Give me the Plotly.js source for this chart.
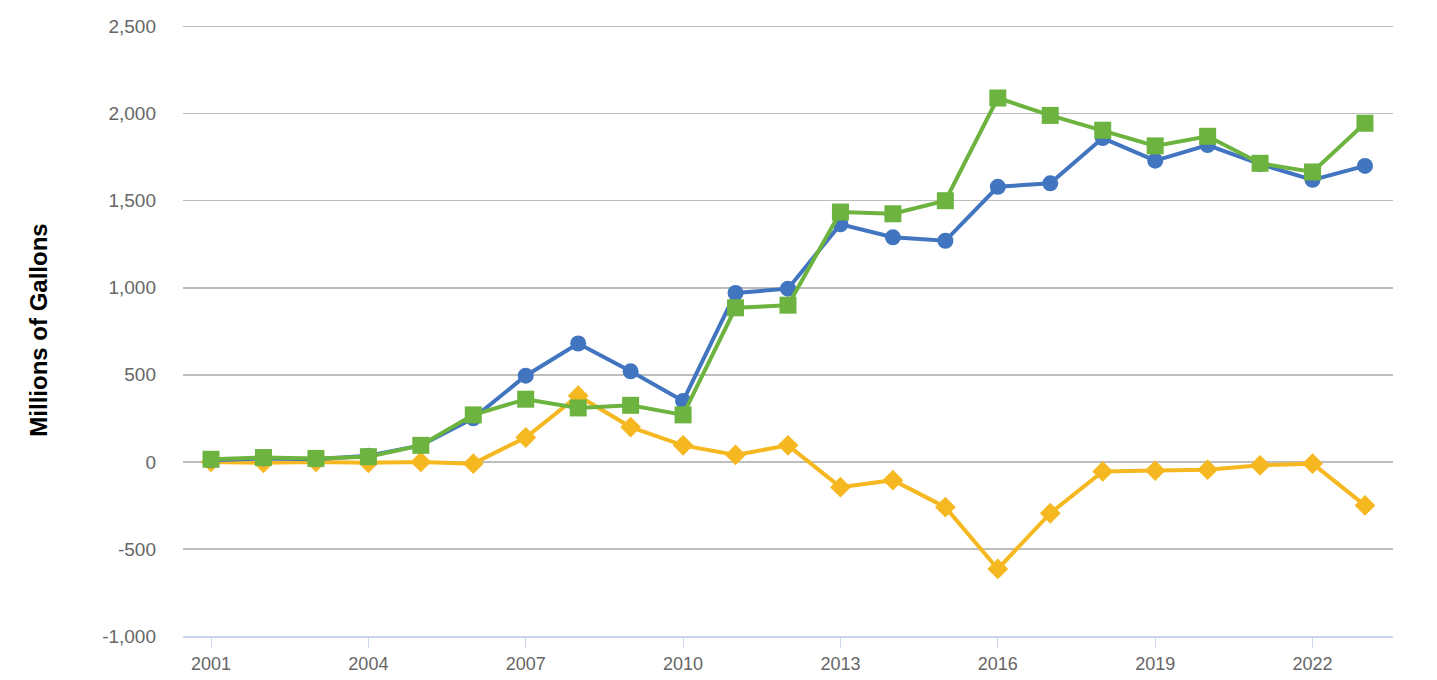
<!DOCTYPE html>
<html>
<head>
<meta charset="utf-8">
<script src="https://cdn.plot.ly/plotly-3.0.1.min.js"></script>
<style>html,body{margin:0;padding:0;background:#fff;}#chart{width:1437px;height:680px;}</style>
</head>
<body>
<div id="chart"></div>
<script>
const years = [2001,2002,2003,2004,2005,2006,2007,2008,2009,2010,2011,2012,2013,2014,2015,2016,2017,2018,2019,2020,2021,2022,2023];
const blueSeries = [10,20,15,35,95,250,495,680,520,350,970,995,1365,1290,1270,1580,1600,1860,1730,1820,1710,1620,1700];
const greenSeries = [15,25,20,30,95,270,360,310,325,270,885,900,1435,1425,1500,2090,1990,1905,1815,1870,1715,1665,1945];
const yellowSeries = [0,-5,0,-5,0,-10,140,380,200,95,40,95,-145,-105,-260,-615,-295,-55,-50,-45,-20,-10,-250];
const yTickVals = [-1000,-500,0,500,1000,1500,2000,2500];
const yTickText = ['-1,000','-500','0','500','1,000','1,500','2,000','2,500'];
const xTickVals = [2001,2004,2007,2010,2013,2016,2019,2022];

const traces = [
  {x: years, y: yellowSeries, mode: 'lines+markers', type: 'scatter',
   line: {color: '#f6b820', width: 4}, marker: {symbol: 'diamond', size: 16, color: '#f6b820'}},
  {x: years, y: blueSeries, mode: 'lines+markers', type: 'scatter',
   line: {color: '#4275c0', width: 4}, marker: {symbol: 'circle', size: 16, color: '#4275c0'}},
  {x: years, y: greenSeries, mode: 'lines+markers', type: 'scatter',
   line: {color: '#6db33f', width: 4}, marker: {symbol: 'square', size: 17, color: '#6db33f'}}
];

const layout = {
  width: 1437, height: 680,
  margin: {l: 183, r: 44, t: 24, b: 44},
  paper_bgcolor: '#fff', plot_bgcolor: '#fff',
  showlegend: false,
  font: {family: 'Liberation Sans, Arial, sans-serif', color: '#666666', size: 18},
  xaxis: {
    range: [2000.466, 2023.534],
    tickvals: xTickVals, ticktext: xTickVals.map(String),
    showgrid: false, zeroline: false,
    showline: true, linecolor: '#ccd6eb', linewidth: 2,
    ticks: 'outside', ticklen: 10, tickcolor: '#ccd6eb', tickwidth: 1,
    tickfont: {size: 18, color: '#666666'}
  },
  yaxis: {
    range: [-1000, 2515],
    tickvals: yTickVals, ticktext: yTickText,
    showgrid: true, gridcolor: '#bdbdbd', gridwidth: 1.5,
    zeroline: false, showline: false, ticks: '',
    ticklabelstandoff: 26,
    tickfont: {size: 19, color: '#666666'},
    title: {text: '<b>Millions of Gallons</b>', font: {size: 24, color: '#000000', family: 'Liberation Sans, Arial, sans-serif'}, standoff: 47}
  }
};

Plotly.newPlot('chart', traces, layout, {displayModeBar: false, staticPlot: true});
</script>
</body>
</html>
